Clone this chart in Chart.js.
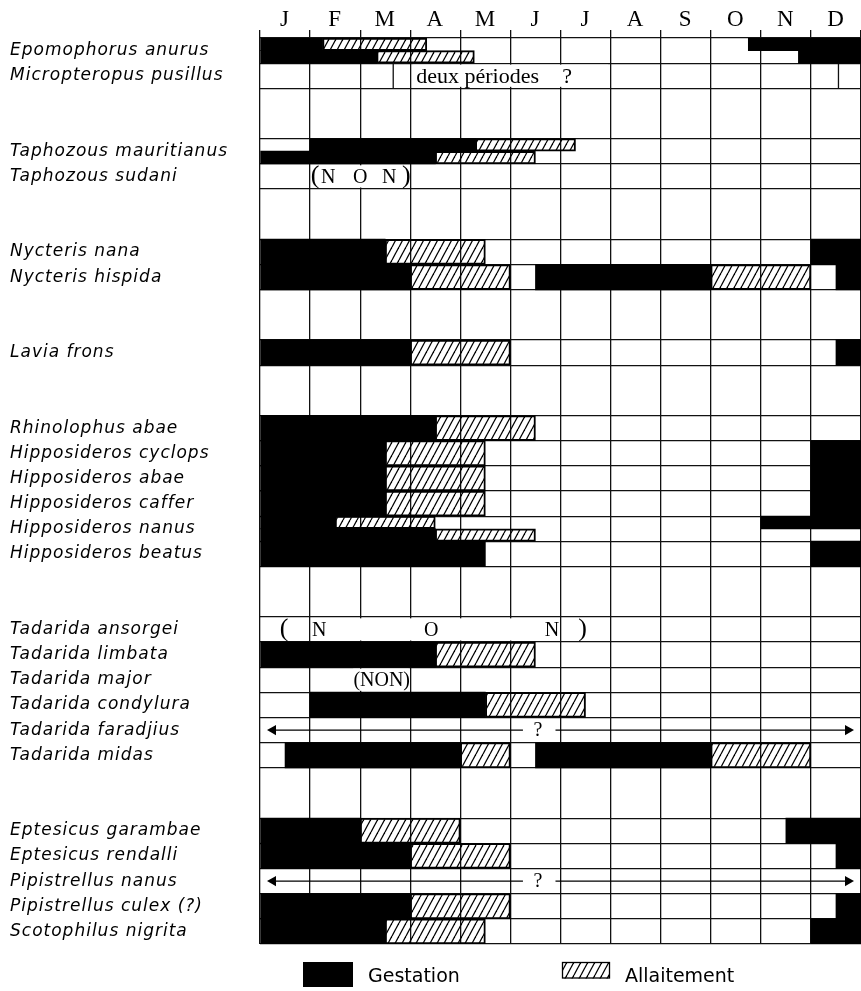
<!DOCTYPE html>
<html>
<head>
<meta charset="utf-8">
<title>Gestation et allaitement</title>
<script src="https://cdn.jsdelivr.net/npm/chart.js@4.4.1/dist/chart.umd.min.js"></script>
<style>
  html, body { margin: 0; padding: 0; background: #fff; }
  #box { position: relative; width: 861px; height: 991px; }
</style>
</head>
<body>
<div id="box"><canvas id="cycle"></canvas></div>
<script>
// month columns; 0 = start of January, 12 = end of December
const months = ["J", "F", "M", "A", "M", "J", "J", "A", "S", "O", "N", "D"];

// one entry per line of the table, "" for the spacer lines
const species = [
  "Epomophorus anurus", "Micropteropus pusillus", "", "",
  "Taphozous mauritianus", "Taphozous sudani", "", "",
  "Nycteris nana", "Nycteris hispida", "", "",
  "Lavia frons", "", "",
  "Rhinolophus abae", "Hipposideros cyclops", "Hipposideros abae", "Hipposideros caffer",
  "Hipposideros nanus", "Hipposideros beatus", "", "",
  "Tadarida ansorgei", "Tadarida limbata", "Tadarida major", "Tadarida condylura",
  "Tadarida faradjius", "Tadarida midas", "", "",
  "Eptesicus garambae", "Eptesicus rendalli", "Pipistrellus nanus", "Pipistrellus culex (?)",
  "Scotophilus nigrita"
];

// spacer pairs are printed as one tall cell: no rule above these lines
const mergedRows = [3, 7, 11, 14, 22, 30];

// [species, from, to] over the whole line
const gestation = [
  ["Nycteris nana", 0, 2.5], ["Nycteris nana", 11, 12],
  ["Nycteris hispida", 0, 3], ["Nycteris hispida", 5.5, 9], ["Nycteris hispida", 11.5, 12],
  ["Lavia frons", 0, 3], ["Lavia frons", 11.5, 12],
  ["Rhinolophus abae", 0, 3.5],
  ["Hipposideros cyclops", 0, 2.5], ["Hipposideros cyclops", 11, 12],
  ["Hipposideros abae", 0, 2.5], ["Hipposideros abae", 11, 12],
  ["Hipposideros caffer", 0, 2.5], ["Hipposideros caffer", 11, 12],
  ["Hipposideros beatus", 0, 4.5], ["Hipposideros beatus", 11, 12],
  ["Tadarida limbata", 0, 3.5],
  ["Tadarida condylura", 1, 4.5],
  ["Tadarida midas", 0.5, 4], ["Tadarida midas", 5.5, 9],
  ["Eptesicus garambae", 0, 2], ["Eptesicus garambae", 10.5, 12],
  ["Eptesicus rendalli", 0, 3], ["Eptesicus rendalli", 11.5, 12],
  ["Pipistrellus culex (?)", 0, 3], ["Pipistrellus culex (?)", 11.5, 12],
  ["Scotophilus nigrita", 0, 2.5], ["Scotophilus nigrita", 11, 12]
];
const allaitement = [
  ["Nycteris nana", 2.5, 4.5],
  ["Nycteris hispida", 3, 5], ["Nycteris hispida", 9, 11],
  ["Lavia frons", 3, 5],
  ["Rhinolophus abae", 3.5, 5.5],
  ["Hipposideros cyclops", 2.5, 4.5],
  ["Hipposideros abae", 2.5, 4.5],
  ["Hipposideros caffer", 2.5, 4.5],
  ["Tadarida limbata", 3.5, 5.5],
  ["Tadarida condylura", 4.5, 6.5],
  ["Tadarida midas", 4, 5], ["Tadarida midas", 9, 11],
  ["Eptesicus garambae", 2, 4],
  ["Eptesicus rendalli", 3, 5],
  ["Pipistrellus culex (?)", 3, 5],
  ["Scotophilus nigrita", 2.5, 4.5]
];

// lines with two cycles, printed as an upper and a lower half-line
const gestationUpper = [
  ["Epomophorus anurus", 0, 1.25], ["Epomophorus anurus", 9.75, 12],
  ["Taphozous mauritianus", 1, 4.3],
  ["Hipposideros nanus", 0, 1.5], ["Hipposideros nanus", 10, 12]
];
const gestationLower = [
  ["Epomophorus anurus", 0, 2.33], ["Epomophorus anurus", 10.75, 12],
  ["Taphozous mauritianus", 0, 3.5],
  ["Hipposideros nanus", 0, 3.5]
];
const allaitementUpper = [
  ["Epomophorus anurus", 1.25, 3.33],
  ["Taphozous mauritianus", 4.3, 6.3],
  ["Hipposideros nanus", 1.5, 3.5]
];
const allaitementLower = [
  ["Epomophorus anurus", 2.33, 4.28],
  ["Taphozous mauritianus", 3.5, 5.5],
  ["Hipposideros nanus", 3.5, 5.5]
];

// breeding all year round, unknown timing: arrow with a question mark
const unknownYear = ["Tadarida faradjius", "Pipistrellus nanus"];
const arrowEnds = [0.26, 11.74];
const arrowGap = [5.25, 5.9];

// printed remarks
const periodMarks = [["Micropteropus pusillus", 2.66], ["Micropteropus pusillus", 11.55]];
const blankOuts = [
  ["Micropteropus pusillus", 3.05, 6.95],
  ["Taphozous sudani", 1.04, 2.96],
  ["Tadarida ansorgei", 1.05, 5.95],
  ["Tadarida major", 1.86, 2.97]
];
const remarks = [["Micropteropus pusillus", 3.12, "deux périodes", "left"], ["Micropteropus pusillus", 6.13, "?", "center"]];
const letters = [
  ["Taphozous sudani", 1.36, "N"], ["Taphozous sudani", 2.0, "O"], ["Taphozous sudani", 2.58, "N"],
  ["Tadarida ansorgei", 1.18, "N"], ["Tadarida ansorgei", 3.42, "O"], ["Tadarida ansorgei", 5.83, "N"],
  ["Tadarida major", 2.43, "(NON)"],
  ["Tadarida faradjius", 5.55, "?"], ["Pipistrellus nanus", 5.55, "?"]
];
const brackets = [
  ["Taphozous sudani", 1.1, "("], ["Taphozous sudani", 2.92, ")"],
  ["Tadarida ansorgei", 0.48, "("], ["Tadarida ansorgei", 6.44, ")"]
];

const ink = "#111";
const rule = 1.3;
const plotTop = 38, plotBottom = 944;
const rowPx = (plotBottom - plotTop) / species.length;

const canvas = document.getElementById("cycle");
const ctx0 = canvas.getContext("2d");

function makeHatch() {
  const c = document.createElement("canvas");
  c.width = 7; c.height = 13;
  const g = c.getContext("2d");
  g.strokeStyle = "#000";
  g.lineWidth = 1.3;
  for (const dx of [-7, 0, 7]) {
    g.beginPath(); g.moveTo(dx, 13); g.lineTo(dx + 7, 0); g.stroke();
  }
  return ctx0.createPattern(c, "repeat");
}
const hatch = makeHatch();

const rowOf = (name) => species.indexOf(name);
const toBars = (list, shift) => list.map(([name, a, b]) => ({ y: rowOf(name) + shift, x: [a, b] }));

function barSet(label, list, shift, thick, hatched) {
  return {
    type: "bar", label, indexAxis: "y", xAxisID: "x", yAxisID: "y",
    data: toBars(list, shift),
    grouped: false,
    barThickness: thick,
    backgroundColor: hatched ? hatch : "#000",
    borderColor: "#000",
    borderWidth: hatched ? 1.3 : 0,
    borderSkipped: false
  };
}

function arrowSet(name) {
  const y = rowOf(name) + 0.5;
  return {
    type: "line", label: "?", xAxisID: "x", yAxisID: "y",
    data: [
      { x: arrowEnds[0], y }, { x: arrowGap[0], y },
      { x: (arrowGap[0] + arrowGap[1]) / 2, y: null },
      { x: arrowGap[1], y }, { x: arrowEnds[1], y }
    ],
    borderColor: "#000", borderWidth: 1.3,
    pointStyle: "triangle",
    pointRadius: [6, 0, 0, 0, 6],
    pointRotation: [-90, 0, 0, 0, 90],
    pointBackgroundColor: "#000", pointBorderWidth: 0,
    spanGaps: false
  };
}

const fit = (w, h) => (s) => {
  if (w !== null) s.width = w;
  if (h !== null) s.height = h;
  s.paddingTop = s.paddingBottom = s.paddingLeft = s.paddingRight = 0;
};

const notes = {
  id: "notes",
  beforeDraw(chart) { chart.ctx.letterSpacing = "1px"; },
  beforeDatasetsDraw(chart) {
    const { ctx, scales: { x, y } } = chart;
    ctx.letterSpacing = "0px";
    ctx.save();
    ctx.strokeStyle = ink; ctx.lineWidth = rule;
    periodMarks.forEach(([name, v]) => {
      const r = rowOf(name), px = x.getPixelForValue(v);
      ctx.beginPath();
      ctx.moveTo(px, y.getPixelForValue(r));
      ctx.lineTo(px, y.getPixelForValue(r + 1));
      ctx.stroke();
    });
    ctx.restore();
  },
  afterDatasetsDraw(chart) {
    const { ctx, scales: { x, y } } = chart;
    ctx.save();
    ctx.fillStyle = "#fff";
    blankOuts.forEach(([name, a, b]) => {
      const r = rowOf(name);
      const t = y.getPixelForValue(r) + 1.5, bt = y.getPixelForValue(r + 1) - 1.5;
      const l = x.getPixelForValue(a);
      ctx.fillRect(l, t, x.getPixelForValue(b) - l, bt - t);
    });
    ctx.fillStyle = "#000";
    ctx.textBaseline = "middle";
    ctx.font = '22px "Liberation Serif"';
    remarks.forEach(([name, v, text, align]) => {
      ctx.textAlign = align;
      ctx.fillText(text, x.getPixelForValue(v), y.getPixelForValue(rowOf(name) + 0.5) + 1);
    });
    ctx.textAlign = "center";
    ctx.font = '20px "Liberation Serif"';
    letters.forEach(([name, v, text]) => {
      ctx.fillText(text, x.getPixelForValue(v), y.getPixelForValue(rowOf(name) + 0.5) + 1);
    });
    ctx.font = '26px "Liberation Serif"';
    brackets.forEach(([name, v, text]) => {
      ctx.fillText(text, x.getPixelForValue(v), y.getPixelForValue(rowOf(name) + 0.5));
    });
    ctx.restore();
  },
  afterDraw(chart) {
    const { ctx, chartArea: a } = chart;
    const top = a.bottom + 18;
    ctx.save();
    ctx.fillStyle = "#000";
    ctx.fillRect(303, top, 50, 25);
    ctx.fillStyle = hatch;
    ctx.fillRect(562, top, 48, 16.5);
    ctx.strokeStyle = "#000"; ctx.lineWidth = 1.3;
    ctx.strokeRect(562.5, top + 0.5, 47, 15.5);
    ctx.fillStyle = "#000";
    ctx.font = '19px "DejaVu Sans"';
    ctx.textAlign = "left"; ctx.textBaseline = "middle";
    ctx.fillText("Gestation", 368, top + 15);
    ctx.fillText("Allaitement", 625, top + 15);
    ctx.restore();
  }
};

new Chart(canvas, {
  type: "bar",
  data: {
    datasets: [
      barSet("Gestation", gestation, 0.5, rowPx + 0.4, false),
      barSet("Gestation", gestationUpper, 0.25, rowPx / 2 + 0.3, false),
      barSet("Gestation", gestationLower, 0.75, rowPx / 2 + 0.3, false),
      barSet("Allaitement", allaitement, 0.5, rowPx, true),
      barSet("Allaitement", allaitementUpper, 0.25, rowPx / 2, true),
      barSet("Allaitement", allaitementLower, 0.75, rowPx / 2, true),
      ...unknownYear.map(arrowSet)
    ]
  },
  options: {
    responsive: true,
    maintainAspectRatio: false,
    animation: false,
    events: [],
    layout: { autoPadding: false, padding: { left: 10, right: 0, top: 0, bottom: 991 - plotBottom } },
    plugins: { legend: { display: false }, tooltip: { enabled: false } },
    scales: {
      x: {
        type: "linear", axis: "x", position: "bottom", min: 0, max: 12, offset: false,
        ticks: { display: false, stepSize: 1 },
        grid: { color: ink, lineWidth: rule, drawTicks: false, offset: false },
        border: { display: false },
        afterFit: fit(null, 0)
      },
      xm: {
        type: "category", axis: "x", position: "top", labels: months, offset: true,
        grid: { offset: true, drawOnChartArea: false, drawTicks: true, tickLength: 8, color: ink, lineWidth: rule },
        border: { display: false },
        ticks: { color: "#000", padding: -1, autoSkip: false, maxRotation: 0,
                 font: { family: "Liberation Serif", size: 23, lineHeight: 1 } },
        afterFit: fit(null, plotTop)
      },
      y: {
        type: "linear", axis: "y", position: "left", min: 0, max: species.length, reverse: true, offset: false,
        ticks: { display: false, stepSize: 1 },
        grid: {
          color: (c) => (c.tick && mergedRows.includes(c.tick.value)) ? "rgba(0,0,0,0)" : ink,
          lineWidth: rule, drawTicks: false, offset: false
        },
        border: { display: false },
        afterFit: fit(0, null)
      },
      yl: {
        type: "category", axis: "y", position: "left", labels: species, offset: true,
        grid: { display: false, drawTicks: false },
        border: { display: false },
        ticks: { crossAlign: "far", padding: 0, autoSkip: false, color: "#000",
                 font: { family: "DejaVu Sans", style: "italic", size: 17 } },
        afterFit: fit(250, null)
      }
    }
  },
  plugins: [notes]
});
</script>
</body>
</html>
